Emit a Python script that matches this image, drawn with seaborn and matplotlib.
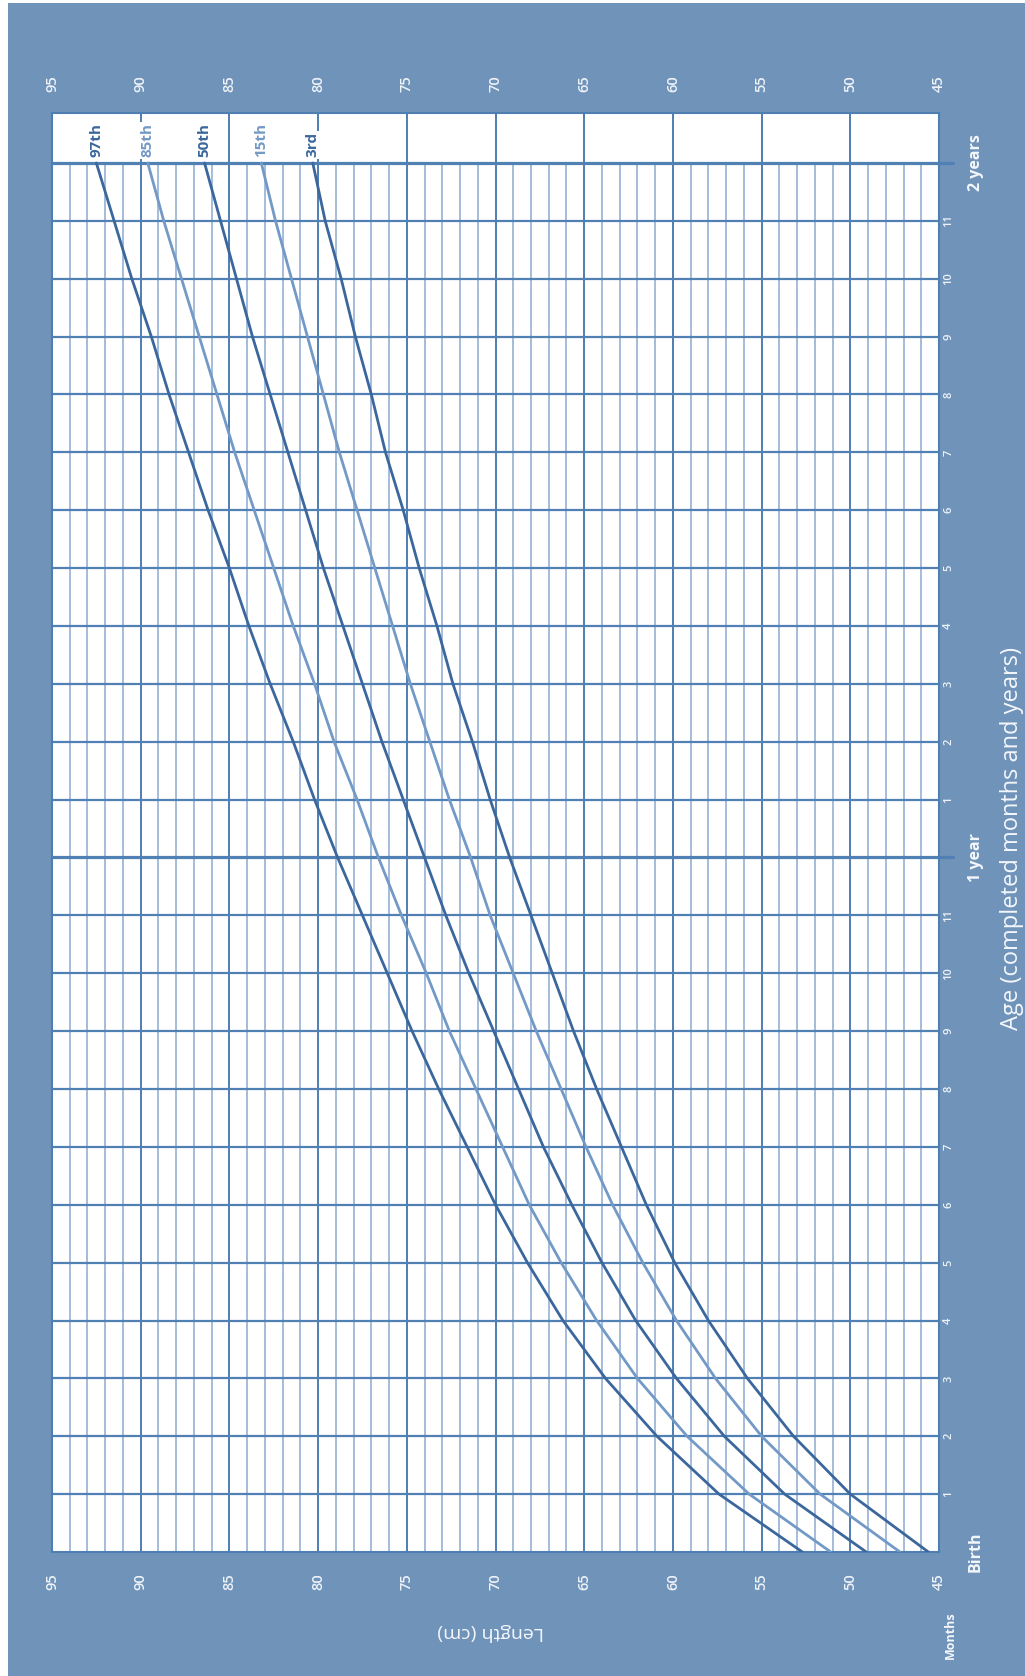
import matplotlib
matplotlib.use("Agg")
import matplotlib.pyplot as plt
from matplotlib.patches import Rectangle
import seaborn as sns
import pandas as pd

# ---------------- data (WHO length-for-age, girls, birth to 2 years) ----------------
months = list(range(0, 25))
p3 = [45.6, 50.0, 53.2, 55.8, 58.0, 59.9, 61.5, 62.9, 64.3, 65.6, 66.8, 68.0, 69.2,
      70.3, 71.3, 72.4, 73.3, 74.3, 75.2, 76.2, 77.0, 77.9, 78.7, 79.6, 80.3]
p15 = [47.2, 51.7, 55.0, 57.6, 59.8, 61.7, 63.4, 64.9, 66.3, 67.7, 69.0, 70.3, 71.4,
       72.6, 73.7, 74.8, 75.8, 76.8, 77.8, 78.8, 79.7, 80.6, 81.5, 82.4, 83.2]
p50 = [49.1, 53.7, 57.1, 59.8, 62.1, 64.0, 65.7, 67.3, 68.7, 70.1, 71.5, 72.8, 74.0,
       75.2, 76.4, 77.5, 78.6, 79.7, 80.7, 81.7, 82.7, 83.7, 84.6, 85.5, 86.4]
p85 = [51.1, 55.7, 59.2, 62.0, 64.3, 66.3, 68.1, 69.6, 71.1, 72.6, 73.9, 75.3, 76.6,
       77.8, 79.1, 80.2, 81.4, 82.5, 83.6, 84.7, 85.7, 86.7, 87.7, 88.7, 89.6]
p97 = [52.7, 57.4, 60.9, 63.8, 66.2, 68.2, 70.0, 71.6, 73.2, 74.7, 76.1, 77.5, 78.9,
       80.2, 81.4, 82.7, 83.9, 85.0, 86.2, 87.3, 88.4, 89.4, 90.5, 91.5, 92.5]
series_names = ["97th", "85th", "50th", "15th", "3rd"]
length_ticks = [95, 90, 85, 80, 75, 70, 65, 60, 55, 50, 45]
month_tick_labels = ["", "1", "2", "3", "4", "5", "6", "7", "8", "9", "10", "11",
                     "", "1", "2", "3", "4", "5", "6", "7", "8", "9", "10", "11", ""]
year_labels = ["Birth", "1 year", "2 years"]
year_positions = [0, 12, 24]

# ---------------- styling ----------------
BG = "#7093b9"
DARK = "#3b679d"
LIGHT = "#7399c6"
GRID_MAJ = "#4f7eb2"
GRID_MIN = "#a4bddb"
HGRID = "#5080b4"
TXT = "#eef3f9"

sns.set_style("white")
plt.rcParams["font.family"] = ["Open Sans", "DejaVu Sans"]

W, H = 1025, 1676
fig = plt.figure(figsize=(W / 100, H / 100), dpi=100)
fig.patch.set_facecolor("white")
fig.patches.append(Rectangle((8 / W, 0), 1, (H - 3) / H, transform=fig.transFigure,
                             facecolor=BG, edgecolor="none", zorder=-10))

left, right, top, bottom = 52, 939, 113, 1552
ax = fig.add_axes([left / W, (H - bottom) / H, (right - left) / W, (bottom - top) / H])
ax.set_facecolor("white")

ymax = 24 + (163 - 113) / ((bottom - 163) / 24)
ax.set_xlim(95, 45)
ax.set_ylim(0, ymax)

# grid: vertical lines every cm (minor up to 24 months, major every 5 cm full height)
for cm in range(46, 95):
    if cm % 5 == 0:
        ax.plot([cm, cm], [0, ymax], color=GRID_MAJ, lw=1.4, zorder=1)
    else:
        ax.plot([cm, cm], [0, 24], color=GRID_MIN, lw=1.4, zorder=1)
# horizontal month lines
for m in range(1, 25):
    if m % 12 == 0:
        ax.plot([95, 44.2], [m, m], color=HGRID, lw=2.3, zorder=2, clip_on=False)
    else:
        ax.plot([95, 45], [m, m], color=HGRID, lw=1.6, zorder=2)

# curves
df = pd.DataFrame({"month": months * 5,
                   "length": p97 + p85 + p50 + p15 + p3,
                   "pct": sum([[n] * len(months) for n in series_names], [])})
palette = {"97th": DARK, "85th": LIGHT, "50th": DARK, "15th": LIGHT, "3rd": DARK}
sns.lineplot(data=df, x="length", y="month", hue="pct", palette=palette, orient="y",
             sort=False, lw=2.0, legend=False, ax=ax, zorder=4)

# curve labels
ends = {"97th": p97[-1], "85th": p85[-1], "50th": p50[-1], "15th": p15[-1], "3rd": p3[-1]}
for n in series_names:
    ax.text(ends[n], 24.1, n, rotation=90, ha="center", va="bottom", fontsize=11,
            fontweight="bold", color=palette[n], zorder=6,
            bbox=dict(facecolor="white", edgecolor="none", pad=1.0))

for s in ax.spines.values():
    s.set_color(GRID_MAJ)
    s.set_linewidth(1.5)

# length ticks on top and bottom
ax.set_xticks(length_ticks)
ax.set_xticklabels([str(v) for v in length_ticks])
ax.tick_params(axis="x", which="both", length=0, top=True, bottom=True,
               labeltop=True, labelbottom=True, labelrotation=90, labelsize=10.5,
               labelcolor=TXT, pad=15)
for lab in ax.get_xticklabels():
    lab.set_fontweight("semibold")

# month ticks on the right
ax.yaxis.tick_right()
ax.set_yticks(months)
ax.set_yticklabels(month_tick_labels)
ax.tick_params(axis="y", length=0, labelrotation=90, labelsize=8,
               labelcolor=TXT, pad=3)
for lab in ax.get_yticklabels():
    lab.set_va("center")
    lab.set_fontweight("semibold")

xfrac = lambda px: (px - left) / (right - left)
yfrac = lambda py: (bottom - py) / (bottom - top)

for lab, pos in zip(year_labels, year_positions):
    ax.text(xfrac(976), pos, lab, transform=ax.get_yaxis_transform(), rotation=90,
            ha="center", va="center", fontsize=11.5, fontweight="bold", color="#f4f7fb")

ax.text(xfrac(950), yfrac(1635), "Months", transform=ax.transAxes, rotation=90,
        ha="center", va="center", fontsize=9, fontweight="bold", color="#f4f7fb")
ax.text(xfrac(1012), yfrac(839), "Age (completed months and years)", transform=ax.transAxes,
        rotation=90, ha="center", va="center", fontsize=17, color="#f4f7fb")
ax.text(xfrac(491), yfrac(1632), "Length (cm)", transform=ax.transAxes,
        rotation=180, ha="center", va="center", fontsize=14, color="#f4f7fb")

ax.set_xlabel("")
ax.set_ylabel("")

fig.savefig("out.png", dpi=100)
